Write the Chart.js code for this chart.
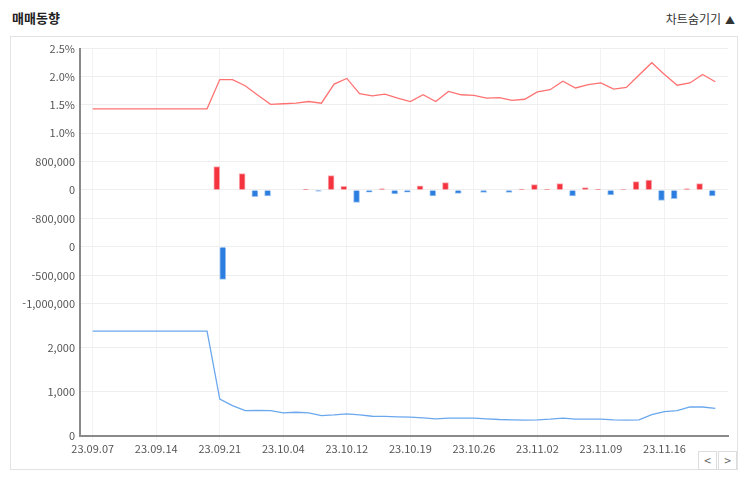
<!DOCTYPE html>
<html lang="ko">
<head>
<meta charset="utf-8">
<script src="https://cdn.jsdelivr.net/npm/chart.js@4.4.0/dist/chart.umd.min.js"></script>
<style>
  body { margin: 0; background: #fff; font-family: 'Noto Sans CJK KR', sans-serif; }
  .wrap { position: relative; width: 743px; height: 482px; }
  .title { position: absolute; left: 12px; top: 8px; font-size: 13px; font-weight: bold; color: #222; }
  .toggle { position: absolute; right: 8px; top: 10px; font-size: 12px; color: #333; }
  .toggle span { font-size: 10px; margin-left: 4px; }
  .box { position: absolute; left: 10px; top: 36px; width: 726px; height: 432px; border: 1px solid #e3e3e3; }
  .box canvas { position: absolute; left: 0; top: 0; }
  .nav { position: absolute; top: 451px; width: 17px; height: 17px; border: 1px solid #ddd; background: #fff;
         color: #666; font-size: 12px; line-height: 16px; text-align: center; }
</style>
</head>
<body>
<div class="wrap">
  <div class="title">매매동향</div>
  <div class="toggle">차트숨기기<span>▲</span></div>
  <div class="box"><canvas id="myChart" width="726" height="432"></canvas></div>
  <div class="nav" style="left:698px">&lt;</div>
  <div class="nav" style="left:718px">&gt;</div>
</div>
<script>
// trading days
const dates = [
  '23.09.07', '23.09.08', '23.09.11', '23.09.12', '23.09.13', '23.09.14', '23.09.15', '23.09.18', '23.09.19', '23.09.20',
  '23.09.21', '23.09.22', '23.09.25', '23.09.26', '23.09.27', '23.10.04', '23.10.05', '23.10.06', '23.10.10', '23.10.11',
  '23.10.12', '23.10.13', '23.10.16', '23.10.17', '23.10.18', '23.10.19', '23.10.20', '23.10.23', '23.10.24', '23.10.25',
  '23.10.26', '23.10.27', '23.10.30', '23.10.31', '23.11.01', '23.11.02', '23.11.03', '23.11.06', '23.11.07', '23.11.08',
  '23.11.09', '23.11.10', '23.11.13', '23.11.14', '23.11.15', '23.11.16', '23.11.17', '23.11.20', '23.11.21', '23.11.22'
];
const tickIndexes = [0, 5, 10, 15, 20, 25, 30, 35, 40, 45];

// 외국인 보유율 (%)
const foreignRatio = [
  1.43, 1.43, 1.43, 1.43, 1.43, 1.43, 1.43, 1.43, 1.43, 1.43,
  1.95, 1.95, 1.84, 1.67, 1.51, 1.52, 1.53, 1.56, 1.53, 1.87,
  1.97, 1.70, 1.66, 1.69, 1.62, 1.56, 1.68, 1.56, 1.74, 1.68,
  1.67, 1.62, 1.63, 1.58, 1.60, 1.73, 1.77, 1.92, 1.80, 1.86,
  1.89, 1.78, 1.81, 2.03, 2.25, 2.04, 1.85, 1.89, 2.04, 1.91
];
// 외국인 순매매
const foreignNet = [
  null, null, null, null, null, null, null, null, null, null,
  660000, 0, 460000, -190000, -170000, 0, 0, 20000, -35000, 405000,
  105000, -350000, -60000, 30000, -110000, -60000, 120000, -170000, 205000, -95000,
  0, -65000, 0, -65000, 25000, 150000, 25000, 180000, -170000, 65000,
  20000, -140000, 15000, 235000, 280000, -290000, -245000, 35000, 180000, -170000
];
// 기관 순매매
const instNet = [
  null, null, null, null, null, null, null, null, null, null,
  -570000, 0, 0, 0, 0, 0, 0, 0, 0, 0,
  0, 0, 0, 0, 0, 0, 0, 0, 0, 0,
  0, 0, 0, 0, 0, 0, 0, 0, 0, 0,
  0, 0, 0, 0, 0, 0, 0, 0, 0, 0
];
// 종가
const closePrice = [
  2380, 2380, 2380, 2380, 2380, 2380, 2380, 2380, 2380, 2380,
  840, 690, 577, 584, 577, 524, 539, 524, 464, 479,
  502, 479, 449, 445, 434, 427, 412, 390, 404, 404,
  404, 390, 375, 367, 360, 367, 382, 404, 382, 382,
  382, 367, 360, 367, 487, 554, 577, 659, 659, 629
];

const toPoints = arr => arr.map((v, i) => ({ x: i, y: v }));
const tickFont = { family: "'Noto Sans CJK KR', sans-serif", size: 11 };
const fmtNum = v => v.toLocaleString('en-US');

const barFill = ctx => (ctx.parsed && ctx.parsed.y < 0) ? '#2b7de0' : '#f4333f';
const barBorder = ctx => (ctx.parsed && ctx.parsed.y < 0) ? '#9cc4f1' : '#f9aab0';

function yScale(min, max, step, weight, fmt, hideTop) {
  return {
    type: 'linear',
    position: 'left',
    stack: 'panels',
    stackWeight: weight,
    min: min,
    max: max,
    afterFit: scale => { scale.width = 69; },
    border: { display: true, color: '#8a8a8a', width: 2 },
    grid: { color: '#eeeeee', drawTicks: false },
    ticks: {
      stepSize: step,
      autoSkip: false,
      padding: 5,
      color: '#555',
      font: tickFont,
      callback: v => (hideTop && v === max) ? '' : fmt(v)
    }
  };
}

const ctx = document.getElementById('myChart').getContext('2d');
const myChart = new Chart(ctx, {
  data: {
    datasets: [
      {
        type: 'line', label: '외국인 보유율', yAxisID: 'yRatio', data: toPoints(foreignRatio),
        borderColor: '#ff7272', borderWidth: 1.3, pointRadius: 0, tension: 0
      },
      {
        type: 'bar', label: '외국인', yAxisID: 'yForeign', data: toPoints(foreignNet),
        backgroundColor: barFill, borderColor: barBorder, borderWidth: 1, barThickness: 6
      },
      {
        type: 'bar', label: '기관', yAxisID: 'yInst', data: toPoints(instNet),
        backgroundColor: barFill, borderColor: barBorder, borderWidth: 1, barThickness: 6
      },
      {
        type: 'line', label: '종가', yAxisID: 'yPrice', data: toPoints(closePrice),
        borderColor: '#6aa8ee', borderWidth: 1.3, pointRadius: 0, tension: 0
      }
    ]
  },
  options: {
    responsive: false,
    animation: false,
    layout: { padding: { top: 7, right: 9, left: 0, bottom: 0 } },
    plugins: { legend: { display: false }, tooltip: { enabled: false } },
    scales: {
      x: {
        type: 'linear',
        offset: false,
        min: -1,
        max: dates.length,
        afterBuildTicks: scale => { scale.ticks = tickIndexes.map(v => ({ value: v })); },
        afterFit: scale => { scale.height = 33; },
        border: { display: true, color: '#8a8a8a', width: 2 },
        grid: { color: '#f2f2f4', tickLength: 4, offset: false },
        ticks: {
          autoSkip: false,
          maxRotation: 0,
          padding: 2,
          color: '#555',
          font: tickFont,
          callback: v => dates[v]
        }
      },
      yPrice: yScale(0, 3000, 1000, 133, fmtNum, true),
      yInst: yScale(-1000000, 500000, 500000, 86, fmtNum, true),
      yForeign: yScale(-800000, 1600000, 800000, 86, fmtNum, true),
      yRatio: yScale(1.0, 2.5, 0.5, 85, v => v.toFixed(1) + '%', false)
    }
  }
});
</script>
</body>
</html>
